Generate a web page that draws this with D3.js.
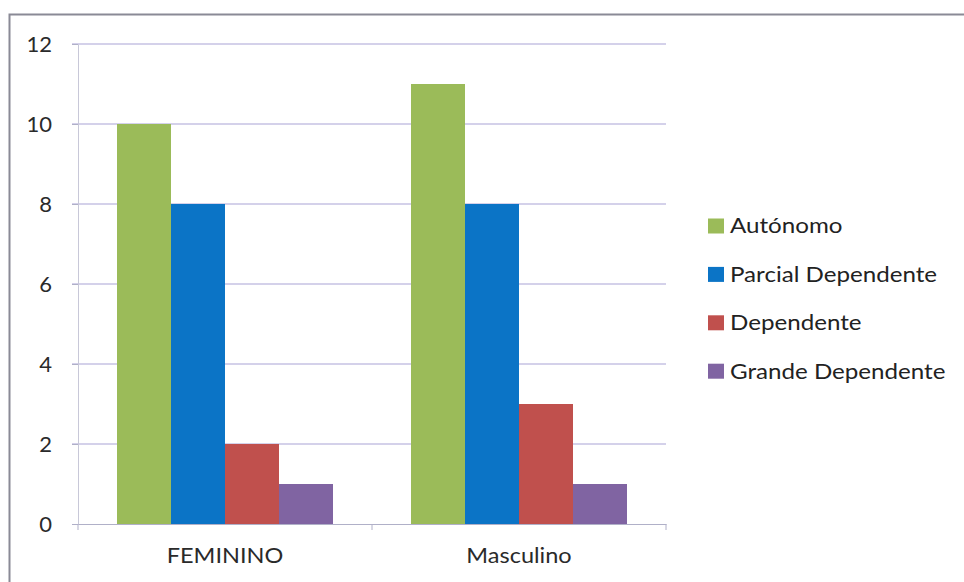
<!DOCTYPE html>
<html><head><meta charset="utf-8">
<script src="https://cdn.jsdelivr.net/npm/d3@7"></script>
<style>body{margin:0;background:#fff}svg{display:block}</style>
</head><body>
<svg id="c" width="964" height="582"></svg>
<script>
const categories = ["FEMININO", "Masculino"];
const seriesNames = ["Autónomo", "Parcial Dependente", "Dependente", "Grande Dependente"];
const autonomo = [10, 11];
const parcialDependente = [8, 8];
const dependente = [2, 3];
const grandeDependente = [1, 1];
const yTicks = [0, 2, 4, 6, 8, 10, 12];
const colors = ["#9BBB59", "#0B74C6", "#C0504D", "#8064A2"];
const seriesValues = [autonomo, parcialDependente, dependente, grandeDependente];

const svg = d3.select("#c");
const font = "Lato, 'Open Sans', sans-serif";
// outer border
svg.append("rect").attr("x", 9.5).attr("y", 14.5).attr("width", 1000).attr("height", 1000)
  .attr("fill", "none").attr("stroke", "#8a8a96").attr("stroke-width", 2);

const L = 78, R = 666, T = 44, B = 524;
const x0 = d3.scaleBand().domain(categories).range([L, R]).paddingInner(0).paddingOuter(0);
const y = d3.scaleLinear().domain([0, 12]).range([B, T]);
const inner = x0.bandwidth() * 216 / 294;
const x1 = d3.scaleBand().domain(seriesNames).range([0, inner]);

// gridlines
svg.append("g").selectAll("line").data(yTicks.filter(d => d > 0)).join("line")
  .attr("x1", L - 6).attr("x2", R).attr("y1", d => y(d)).attr("y2", d => y(d))
  .attr("stroke", "#a9a4d6").attr("stroke-width", 1.2);

// bars
categories.forEach((c, ci) => {
  const gx = x0(c) + (x0.bandwidth() - inner) / 2;
  svg.append("g").selectAll("rect").data(seriesNames).join("rect")
    .attr("x", s => gx + x1(s)).attr("width", x1.bandwidth())
    .attr("y", (s, si) => y(seriesValues[si][ci]))
    .attr("height", (s, si) => B - y(seriesValues[si][ci]))
    .attr("fill", (s, si) => colors[si]);
});

// y axis
const ya = svg.append("g").attr("transform", `translate(${L},0)`)
  .call(d3.axisLeft(y).tickValues(yTicks).tickSize(6).tickPadding(20));
ya.select(".domain").attr("stroke", "#c8c8d8");
ya.selectAll(".tick line").attr("stroke", "#b0b0c8");
ya.selectAll("text").attr("font-family", font).attr("font-size", 22).attr("fill", "#2a2a2a");

// x axis
const xa = svg.append("g").attr("transform", `translate(0,${B})`)
  .call(d3.axisBottom(x0).tickSize(0).tickPadding(24));
xa.select(".domain").attr("stroke", "#b0b0c8");
xa.selectAll("text").attr("font-family", font).attr("font-size", 21).attr("fill", "#2a2a2a")
  .attr("transform", "scale(1.12,1)").attr("x", 0);
xa.selectAll(".tick").each(function() {
  const t = d3.select(this).attr("transform");
});
svg.append("g").selectAll("line").data([L, x0(categories[1]), R]).join("line")
  .attr("x1", d => d).attr("x2", d => d).attr("y1", B).attr("y2", B + 6)
  .attr("stroke", "#b0b0c8");

// legend
const lg = svg.append("g").selectAll("g").data(seriesNames).join("g")
  .attr("transform", (d, i) => `translate(708,${226 + i * 48.4})`);
lg.append("rect").attr("x", 0).attr("y", -7.5).attr("width", 16).attr("height", 15)
  .attr("fill", (d, i) => colors[i]);
lg.append("text").attr("x", 22 / 1.15).attr("y", 0).attr("dy", "0.35em")
  .attr("transform", "scale(1.15,1)")
  .attr("font-family", font).attr("font-size", 21).attr("fill", "#222").text(d => d);
</script>
</body></html>
